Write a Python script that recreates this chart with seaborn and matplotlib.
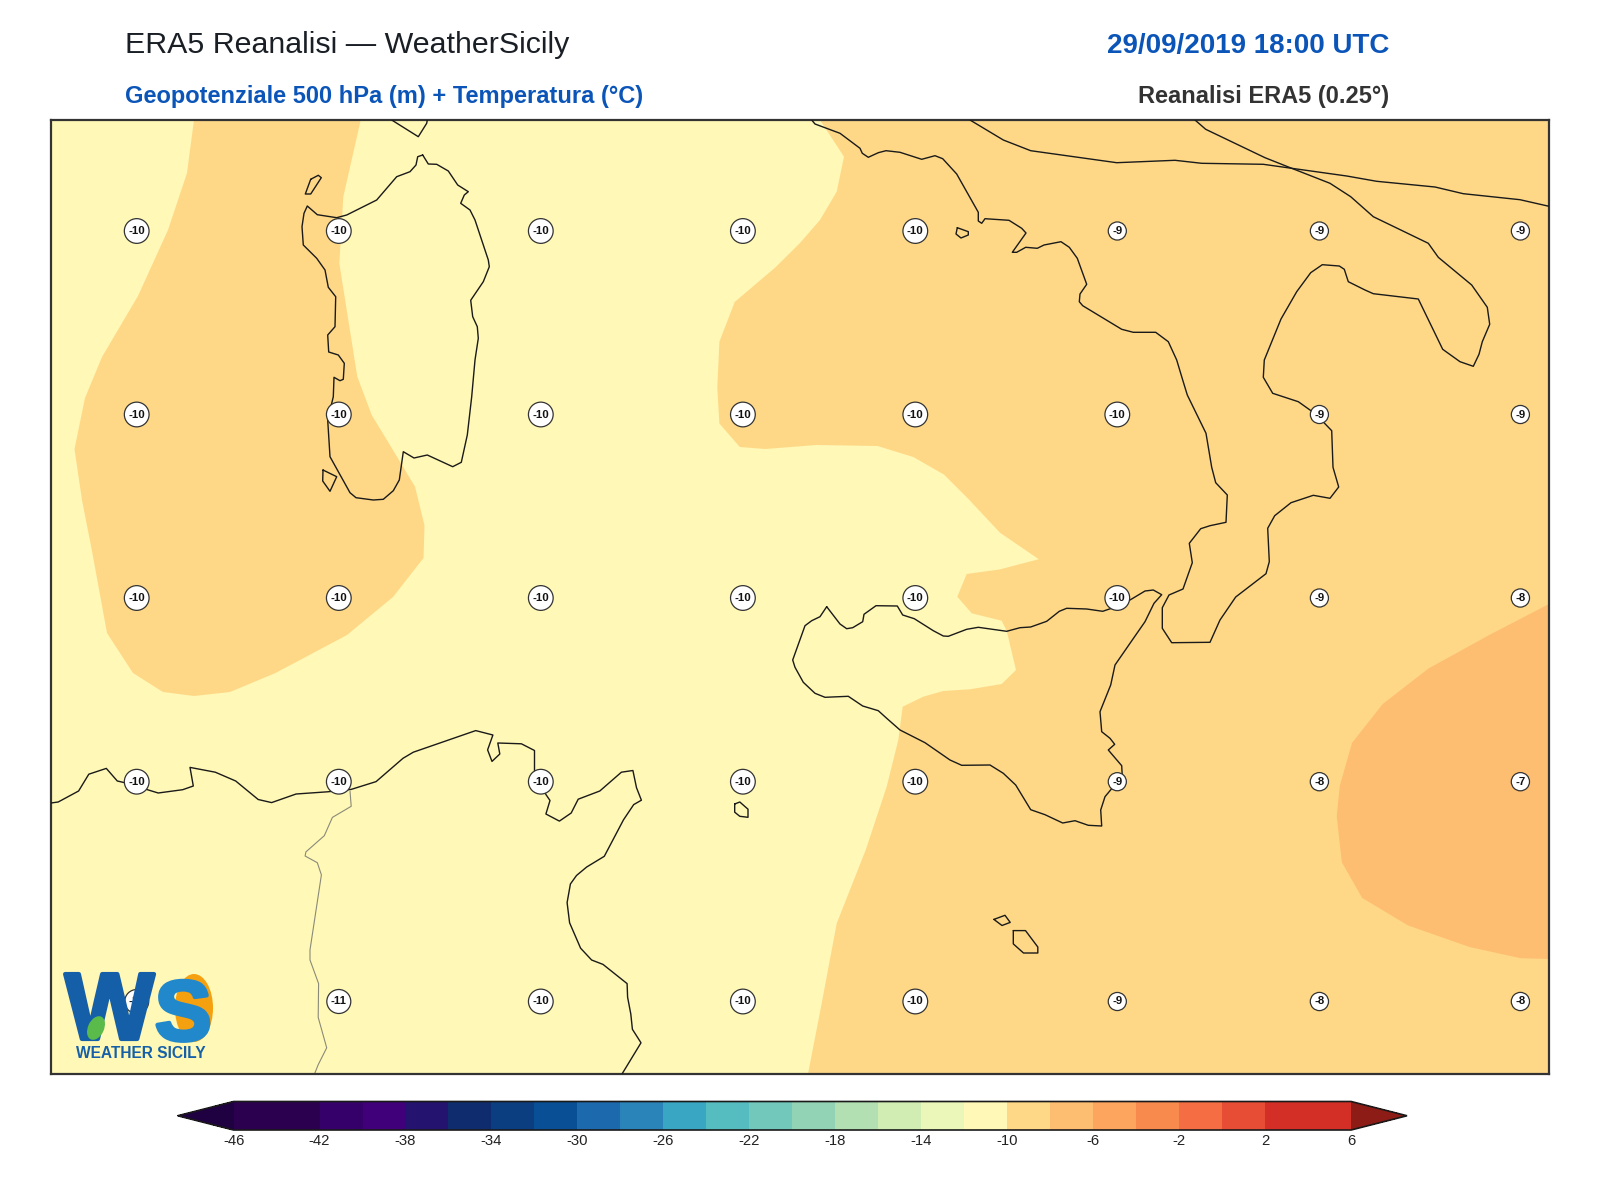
import numpy as np
import pandas as pd
import matplotlib
matplotlib.use('Agg')
import matplotlib.pyplot as plt
import matplotlib.patheffects as pe
from matplotlib.colors import BoundaryNorm, ListedColormap
from matplotlib.cm import ScalarMappable
from matplotlib.patches import Ellipse, Polygon
import seaborn as sns

grid_x = [136.7, 338.8, 540.8, 742.9, 915.3, 1117.3, 1319.4, 1520.4]
grid_y = [231, 414.5, 598, 781.7, 1001.5]
temps = [
    [-10, -10, -10, -10, -10, -9, -9, -9],
    [-10, -10, -10, -10, -10, -10, -9, -9],
    [-10, -10, -10, -10, -10, -10, -9, -8],
    [-10, -10, -10, -10, -10, -9, -8, -7],
    [-11, -11, -10, -10, -10, -9, -8, -8],
]

levels = [-46, -42, -40, -38, -36, -34, -32, -30, -28, -26, -24, -22, -20, -18, -16,
          -14, -12, -10, -8, -6, -4, -2, 0, 2, 6]
level_colors = ['#2b004f', '#35006a', '#3f0079', '#241470', '#0f2c6e', '#0b3e80', '#084f96',
                '#1c69ae', '#2b84b9', '#39a6c4', '#55bcc0', '#73c8bc', '#92d3b5', '#b2e0b2',
                '#d2edb4', '#eaf7b8', '#fff8b6', '#fed887', '#febe72', '#fda55f', '#f98a4e',
                '#f46d43', '#e64d34', '#d42f26']
tick_values = list(range(-46, 7, 4))

# temperature bands
band_west = [(194, 120), (187, 173), (168, 230), (138, 296), (102, 357), (85, 398), (74.5, 449),
             (82, 500), (92, 551), (107, 633), (133, 673), (163, 692), (194, 696), (230, 692),
             (275.5, 673), (347, 635), (393, 597), (423.5, 558), (424.5, 525.5), (415, 486.7),
             (400, 461.7), (371.7, 415), (357.3, 376.7), (339.3, 263.3), (343.3, 196.7), (360.7, 120)]
band_east = [(820, 120), (844, 156.7), (836.7, 191.7), (820, 220), (800, 243), (775.5, 267.3),
             (734.7, 302), (719.4, 341.8), (717.3, 387.8), (719.4, 423.5), (739.8, 447), (765.3, 449),
             (816.3, 445), (877.6, 446), (913.3, 457), (943.9, 474.5), (969.4, 500), (1000, 532.7),
             (1038.8, 559.2), (1000, 569.4), (966.7, 574), (957.3, 596.7), (971.7, 613.3), (1001.7, 620.7),
             (1006.7, 630.7), (1016, 670), (1001.7, 684), (970, 689.3), (943.3, 691), (923.3, 696.7),
             (902.7, 706.7), (898.3, 740), (886.7, 786.7), (865.7, 850), (836.7, 923.5), (821.4, 1005),
             (808, 1074), (1549, 1074), (1549, 120)]
band_warm = [(1549, 604), (1489.8, 634.7), (1428.6, 668.4), (1382.7, 704), (1352, 742.9), (1339.8, 785.7),
             (1336.7, 816.3), (1341.8, 862.2), (1362.2, 898), (1408.2, 925.5), (1469.4, 947),
             (1520.4, 958.2), (1549, 959)]

# coasts
sardinia = [(422.7, 155), (428.3, 164), (436.7, 164.3), (448.3, 171), (457.7, 185), (468.3, 191.7), (464.3, 195),
            (460.7, 203.3), (470, 210), (475, 220), (488.3, 260), (489.3, 266.7), (483.3, 281.7), (470.7, 300.3),
            (472.7, 316.7), (477.3, 326.7), (478.3, 338.3), (475, 360), (471.7, 396.7), (467.3, 435), (461.3, 462.3),
            (452.7, 466.7), (427.3, 455), (414, 458), (403.3, 451.7), (399.3, 480), (393.3, 490.7), (383.3, 499.3),
            (373.3, 500), (356, 497.7), (350, 492.7), (330, 456.7), (327.7, 420), (333.3, 396.7), (334, 377.3),
            (340, 380.7), (343.3, 379.3), (344.3, 363.3), (338.3, 355), (328.7, 352), (327.7, 335), (335, 326.7),
            (335.7, 296.7), (328.3, 287.3), (325, 270), (316.7, 258.3), (303.3, 245), (302, 226.7), (304, 213.3),
            (307.3, 206), (317.3, 214.7), (336.7, 217.7), (346.7, 215), (376.7, 200), (396.7, 176.7), (410, 171.7),
            (416, 165), (417.7, 156.7), (422.7, 155)]
corsica = [(391.7, 120), (418.3, 136.7), (426.7, 123.3), (427.3, 120)]
asinara = [(310.7, 179.3), (318.3, 175.3), (321.3, 177.7), (310.7, 194), (305.3, 194), (310.7, 179.3)]
antioco = [(323, 470), (336.7, 476.7), (330, 491.3), (322.7, 481), (323, 470)]
sicily = [(826.7, 606.7), (840, 624), (846.7, 628.7), (852.7, 627.7), (862.7, 621.7), (864, 614.3), (876, 605.7),
          (897.3, 606), (902.7, 615), (914.3, 618.7), (933.3, 630.7), (943.3, 636), (948.3, 636.3), (966.7, 629.3),
          (978.3, 627.3), (1006.7, 631.3), (1020, 627.7), (1030.7, 627), (1046.7, 621.3), (1059.3, 611.3),
          (1066.7, 608.3), (1086.7, 609), (1102.7, 611.3), (1113.3, 607.7), (1130, 600), (1145, 591), (1153.3, 590),
          (1161.7, 594.7), (1154, 603.3), (1145, 621.7), (1130, 643.3), (1115, 665), (1110.7, 685), (1100, 711.7),
          (1101.7, 731.7), (1110, 738.3), (1114.7, 744.3), (1108.3, 750), (1121.7, 765.7), (1122.3, 776.7),
          (1113.3, 786.7), (1105, 796.7), (1100.7, 810), (1101.7, 826), (1088.3, 825.3), (1075, 820.7), (1062.7, 823),
          (1045, 814.7), (1030.7, 809.7), (1015.7, 785), (1003.3, 773.3), (990, 765), (961.7, 765.3), (950, 760),
          (925, 742.7), (900, 730), (886.7, 718.3), (878.3, 710.7), (862.7, 706), (848.3, 696.3), (825, 697.3),
          (815, 693.3), (803.3, 682.3), (795, 667.3), (792.7, 660), (805, 625.7), (811.7, 620.7), (820, 616.7),
          (826.7, 606.7)]
italy = [(811.7, 120), (815, 124), (840, 133.3), (860, 148.3), (862.3, 153.3), (868.3, 157.3), (878.3, 152.7),
         (886, 150.7), (900, 152.3), (921.7, 159.3), (935, 155.7), (942.7, 158.7), (956.7, 174), (978.3, 212.3),
         (978.3, 221), (981.7, 223.3), (985, 218.7), (1009, 220.3), (1021.7, 228.3), (1026, 233), (1012.3, 252.3),
         (1016.7, 252.3), (1025.7, 247.3), (1037.3, 248.3), (1044, 245), (1061, 241.7), (1069.3, 247.3), (1077.3, 258.3),
         (1086.7, 284.3), (1080, 294), (1079.3, 301.7), (1082.7, 305.7), (1121.7, 329.3), (1133.3, 332.3),
         (1155.7, 332.3), (1168.3, 341.7), (1176.7, 360), (1182.7, 380), (1187.3, 395), (1206, 433.3), (1211.7, 467.3),
         (1215.7, 482.7), (1227.3, 495), (1226, 522.3), (1210, 525.7), (1200.7, 528.7), (1189.3, 543.3), (1192.3, 562.7),
         (1183, 589), (1169, 595), (1162.3, 607.7), (1162.3, 628.3), (1171.7, 642.7), (1210, 642.3), (1220, 620),
         (1235.7, 597), (1266, 573.7), (1269.3, 561.7), (1267.7, 528.3), (1274.7, 515.7), (1291, 502.7), (1313.3, 495.3),
         (1330, 498.3), (1338.7, 487), (1333, 467.3), (1331.7, 430.7), (1324, 422.7), (1310, 410), (1298.3, 401.7),
         (1272.7, 393.3), (1263.3, 377.3), (1264.3, 360), (1281, 319), (1296.7, 291.7), (1310.7, 272.7), (1322.3, 264.7),
         (1339.3, 266), (1344.3, 269.3), (1348.3, 281.7), (1365, 290), (1373.3, 293.7), (1418.3, 299), (1442.7, 349.3),
         (1460, 361.7), (1473.3, 366.3), (1479, 354.3), (1482.3, 341.7), (1489.7, 324.3), (1487.3, 307.3), (1471.7, 285),
         (1438.3, 257.3), (1428.3, 243.3), (1373.3, 216.7), (1350.7, 196.7), (1330, 183.3), (1291.7, 168.3), (1265, 157.7),
         (1205.7, 129.3), (1195, 120)]
balkan = [(970, 120), (1003.3, 140), (1030.7, 150.7), (1116.7, 162.7), (1175, 160.3), (1201.7, 163.3), (1263.3, 164.3),
          (1291.7, 168.3), (1346.7, 176), (1376.7, 181.3), (1435, 187), (1463.3, 193.7), (1520, 199.7), (1549, 206.3)]
ponza = [(957.3, 227.7), (968.3, 231.7), (968.3, 235), (961, 238), (956, 234), (957.3, 227.7)]
africa = [(51, 803), (58.2, 802), (78.6, 791), (88.8, 774.2), (106.3, 768.4), (117.3, 781), (124.3, 782.6), (158.2, 793),
          (182.7, 789.7), (193.3, 786), (190, 767.4), (215.3, 772.2), (235.7, 781), (258.2, 799.5), (271.6, 802.6),
          (296.1, 794), (327.6, 791.8), (351.2, 789.4), (376.1, 781.6), (403, 758.3), (413.3, 752.2), (475.7, 730.6),
          (492.9, 735), (487.6, 749.9), (492, 761.4), (499.8, 754), (497.8, 743), (521.4, 743.8), (534.5, 750.5),
          (534.5, 770.8), (545.9, 794.5), (550, 800.5), (545.9, 814), (559.4, 821.1), (571.2, 813), (578.2, 799.2),
          (599.8, 791), (621.4, 772.2), (632.9, 770.5), (636.5, 787.7), (641.4, 800.2), (633.7, 804.6), (623.5, 819.8),
          (604.3, 856.3), (586.7, 867), (576.5, 875.5), (570.4, 884), (567.1, 902.6), (569.6, 922.8), (580.6, 948.2),
          (591.6, 960), (603, 964.4), (627.1, 983.6), (627.6, 997.2), (630.8, 1014), (632.4, 1029.3), (641, 1042.8),
          (622, 1074)]
pantelleria = [(734.7, 804), (739.8, 802), (748, 809.2), (748, 817.3), (739.8, 816.3), (734.7, 812.2), (734.7, 804)]
gozo = [(993.9, 919.4), (1005, 915.3), (1010.2, 922.4), (1002, 925.5), (993.9, 919.4)]
malta = [(1013.3, 930.6), (1025.5, 930.6), (1037.8, 947), (1037.8, 953), (1023.5, 953), (1013.3, 943.9), (1013.3, 930.6)]
coasts = [sardinia, corsica, asinara, antioco, sicily, italy, balkan, ponza, africa, pantelleria, gozo, malta]

border = [(350, 791), (351.2, 806.3), (332.4, 817.4), (324.3, 835.7), (305.9, 851.9), (305.1, 856), (317.3, 862.7),
          (321.4, 874.9), (310, 949.9), (310, 960), (318.6, 983.6), (318.2, 1017.4), (326.7, 1047.8), (318.2, 1064.7),
          (314.5, 1074)]

sns.set_theme(style='white')
plt.rcParams['font.family'] = ['Liberation Sans', 'DejaVu Sans']
plt.rcParams['axes.unicode_minus'] = False

W, H = 1600, 1200
fig = plt.figure(figsize=(16, 12), dpi=100)
ax = fig.add_axes([51 / W, 1 - 1074 / H, (1549 - 51) / W, (1074 - 120) / H])

cmap = ListedColormap(level_colors).with_extremes(under='#1f0040', over='#8d1c16')
norm = BoundaryNorm(levels, cmap.N)

ax.set_facecolor(cmap(norm(-11)))
ax.add_patch(Polygon(band_west, closed=True, fc=cmap(norm(-9)), ec='none', zorder=1))
ax.add_patch(Polygon(band_east, closed=True, fc=cmap(norm(-9)), ec='none', zorder=1))
ax.add_patch(Polygon(band_warm, closed=True, fc=cmap(norm(-7)), ec='none', zorder=1.5))

for line in coasts:
    df = pd.DataFrame(line, columns=['x', 'y'])
    sns.lineplot(data=df, x='x', y='y', sort=False, estimator=None, color='#1a1a1a', linewidth=1.0, ax=ax, zorder=3)
df = pd.DataFrame(border, columns=['x', 'y'])
sns.lineplot(data=df, x='x', y='y', sort=False, estimator=None, color='#8a8a7a', linewidth=0.8, ax=ax, zorder=2.5)

for j, y in enumerate(grid_y):
    for i, x in enumerate(grid_x):
        ax.text(x, y, str(temps[j][i]), ha='center', va='center', fontsize=8.2, fontweight='bold', color='#111111',
                zorder=4, bbox=dict(boxstyle='circle,pad=0.35', fc='white', ec='#333333', lw=0.9))

ax.set_xlim(51, 1549)
ax.set_ylim(1074, 120)
ax.set_xlabel('')
ax.set_ylabel('')
ax.set_xticks([])
ax.set_yticks([])
for s in ax.spines.values():
    s.set_visible(True)
    s.set_color('#333333')
    s.set_linewidth(1.6)

# logo
ax.add_patch(Ellipse((194, 1008), 38, 68, fc='#f5a00e', ec='none', zorder=5))
w_txt = ax.text(65, 1039, 'W', fontsize=68, fontweight='bold', color='#155fa8', ha='left', va='baseline', zorder=6)
s_txt = ax.text(155, 1040, 'S', fontsize=61, fontweight='bold', color='#2288cc', ha='left', va='baseline', zorder=6)
w_txt.set_path_effects([pe.withStroke(linewidth=3, foreground='#155fa8')])
s_txt.set_path_effects([pe.withStroke(linewidth=3, foreground='#2288cc')])
ax.add_patch(Ellipse((96, 1028), 16, 25, angle=25, fc='#5abb4a', ec='none', zorder=7))
ax.text(140.5, 1053.5, 'WEATHER SICILY', fontsize=11.2, fontweight='bold', color='#1560a8', ha='center', va='center', zorder=6)

# colorbar, extends live inside the axes box
cax = fig.add_axes([177.7 / W, 1 - 1130 / H, (1407 - 177.7) / W, 28.5 / H])
sm = ScalarMappable(norm=norm, cmap=cmap)
cb = fig.colorbar(sm, cax=cax, orientation='horizontal', extend='both', extendfrac=0.05,
                  spacing='proportional', ticks=tick_values, drawedges=False)
cb.minorticks_off()
cb.ax.tick_params(length=0, pad=3, labelsize=10.7, labelcolor='#222222')
cb.outline.set_edgecolor('#1a1a1a')
cb.outline.set_linewidth(1.2)

fig.text(124.5 / W, 1 - 53 / H, 'ERA5 Reanalisi \u2014 WeatherSicily', fontsize=21.9, color='#1a1f26', ha='left', va='baseline')
fig.text(124.5 / W, 1 - 103 / H, 'Geopotenziale 500 hPa (m) + Temperatura (\u00b0C)', fontsize=17.0, fontweight='bold',
         color='#0b55b8', ha='left', va='baseline')
fig.text(1389 / W, 1 - 53 / H, '29/09/2019 18:00 UTC', fontsize=20, fontweight='bold', color='#0b55b8', ha='right', va='baseline')
fig.text(1389 / W, 1 - 103 / H, 'Reanalisi ERA5 (0.25\u00b0)', fontsize=17.0, fontweight='bold', color='#333333', ha='right', va='baseline')

fig.savefig('out.png', dpi=100)
